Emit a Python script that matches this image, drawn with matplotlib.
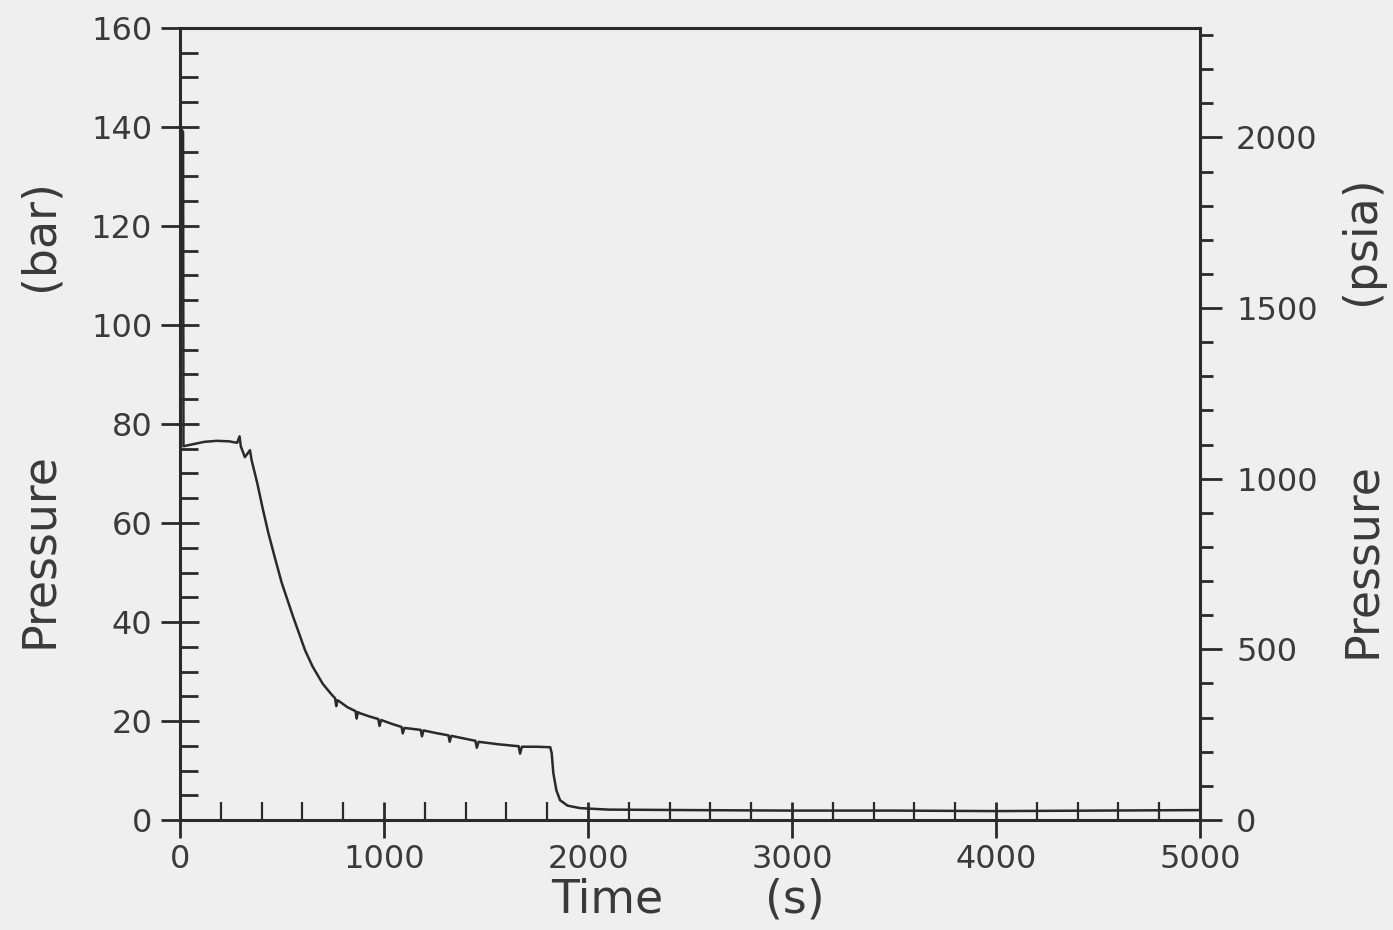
import matplotlib
matplotlib.use("Agg")
import matplotlib.pyplot as plt
from matplotlib.ticker import MultipleLocator

# ---- data ----
time_s = [0, 15, 17, 50, 120, 180, 240, 280, 292, 298, 318, 343, 351, 379, 405, 433,
          465, 498, 555, 613, 650, 700, 740, 760, 766, 772, 780, 820, 860, 866, 872, 880,
          930, 972, 978, 986, 1040, 1086, 1092, 1100, 1140, 1180, 1186, 1194,
          1250, 1316, 1322, 1330, 1400, 1448, 1455, 1464, 1560, 1660, 1667,
          1676, 1750, 1815, 1822, 1830, 1845, 1863, 1900, 1961, 2100, 2500,
          3000, 3500, 4000, 4500, 5000]
pressure_bar = [140, 139, 75.5, 75.8, 76.4, 76.6, 76.5, 76.2, 77.5, 75.5, 73.3, 74.7, 72.7, 68.0, 63.0, 58.0,
                53.0, 48.0, 41.0, 34.3, 31.0, 27.5, 25.5, 24.6, 23.0, 24.2, 24.0, 22.8, 22.0, 20.5, 21.8, 21.6,
                20.9, 20.4, 19.0, 20.2, 19.4, 18.8, 17.5, 18.6, 18.4, 18.2, 16.9, 18.1,
                17.6, 17.1, 15.8, 17.0, 16.4, 16.0, 14.6, 15.8, 15.3, 14.9, 13.4,
                14.8, 14.8, 14.7, 13.5, 9.5, 6.0, 4.0, 2.9, 2.4, 2.1, 2.0,
                1.9, 1.9, 1.8, 1.9, 2.0]

bar_ticks = [0, 20, 40, 60, 80, 100, 120, 140, 160]
psia_ticks = [0, 500, 1000, 1500, 2000]
time_ticks = [0, 1000, 2000, 3000, 4000, 5000]
BAR_TO_PSI = 14.5038

bg = "#efefef"
ink = "#2a2a2a"
tick_font = dict(family="DejaVu Sans", size=23, color="#3a3a3a")

fig = plt.figure(figsize=(13.93, 9.30), dpi=100, facecolor=bg)
ax = fig.add_axes([180/1393, 1 - 820/930, 1020/1393, 792/930])
ax.set_facecolor(bg)

ax.plot(time_s, pressure_bar, color=ink, lw=1.8)

ax.set_xlim(0, 5000)
ax.set_ylim(0, 160)

ax.set_yticks(bar_ticks)
ax.yaxis.set_minor_locator(MultipleLocator(5))
ax.set_xticks(time_ticks)
ax.xaxis.set_minor_locator(MultipleLocator(200))

ax.tick_params(axis="y", which="major", direction="inout", length=28, width=2,
               color=ink, pad=6, right=False)
ax.tick_params(axis="y", which="minor", direction="in", length=13, width=2,
               color=ink, right=False)
ax.tick_params(axis="x", which="major", direction="inout", length=26, width=2,
               color=ink, pad=4, top=False)
ax.tick_params(axis="x", which="minor", direction="in", length=13, width=1.6,
               color=ink, top=False)
ax.set_yticklabels([str(v) for v in bar_ticks], **tick_font)
ax.set_xticklabels([str(v) for v in time_ticks], **tick_font)

for s in ax.spines.values():
    s.set_color(ink)
    s.set_linewidth(2.2)

ax2 = ax.twinx()
ax2.set_ylim(0, 160 * BAR_TO_PSI)
ax2.set_yticks(psia_ticks)
ax2.yaxis.set_minor_locator(MultipleLocator(100))
ax2.tick_params(axis="y", which="major", direction="out", length=16, width=2,
                color=ink, pad=10)
ax2.tick_params(axis="y", which="minor", direction="out", length=9, width=2,
                color=ink)
ax2.set_yticklabels([str(v) for v in psia_ticks], **tick_font)
for s in ax2.spines.values():
    s.set_visible(False)

label_font = dict(family="DejaVu Sans", size=33, color="#3a3a3a")
fig.text(40/1393, 1 - 550/930, "Pressure", rotation=90, ha="center", va="center", **label_font)
fig.text(40/1393, 1 - 235/930, "(bar)", rotation=90, ha="center", va="center", **label_font)
fig.text(1362/1393, 1 - 560/930, "Pressure", rotation=90, ha="center", va="center", **label_font)
fig.text(1362/1393, 1 - 240/930, "(psia)", rotation=90, ha="center", va="center", **label_font)
fig.text(607/1393, 1 - 900/930, "Time", ha="center", va="center", **label_font)
fig.text(795/1393, 1 - 900/930, "(s)", ha="center", va="center", **label_font)

fig.savefig("out.png", dpi=100, facecolor=bg)
